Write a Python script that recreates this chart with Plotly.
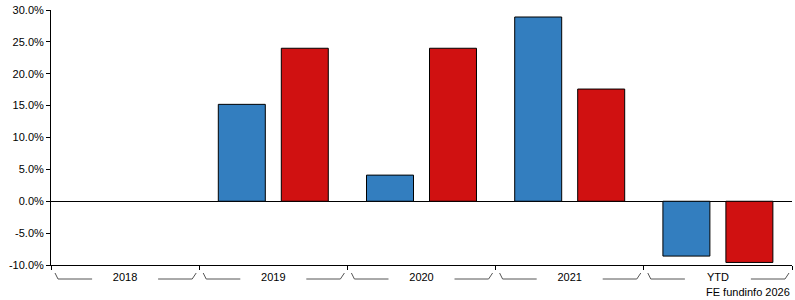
import plotly.graph_objects as go

categories = ["2018", "2019", "2020", "2021", "YTD"]
fund_values = [None, 15.2, 4.1, 28.9, -8.6]
sector_values = [None, 24.0, 24.0, 17.6, -9.6]
y_ticks = [-10, -5, 0, 5, 10, 15, 20, 25, 30]
y_tick_labels = [f"{v:.1f}%" for v in y_ticks]

W, H = 795, 300
ML, MR, MT, MB = 51, 3, 10, 35
plot_w = W - ML - MR
plot_h = H - MT - MB
cat_px = plot_w / len(categories)

fig = go.Figure()
fig.add_trace(go.Bar(x=categories, y=fund_values, name="Fund",
                     marker=dict(color="#337ebf", line=dict(color="#000000", width=1))))
fig.add_trace(go.Bar(x=categories, y=sector_values, name="Sector",
                     marker=dict(color="#d01111", line=dict(color="#000000", width=1))))

# bracket decorations under each category
shapes = []
def px2x(px):
    return px / cat_px
y_hi = -8 / plot_h
y_lo = -14 / plot_h
for i, c in enumerate(categories):
    left = i - 0.5
    right = i + 0.5
    half_gap = 33
    pts_left = [(left + px2x(4), y_hi), (left + px2x(7), y_lo), (i - px2x(half_gap), y_lo)]
    pts_right = [(i + px2x(half_gap), y_lo), (right - px2x(7), y_lo), (right - px2x(3), y_hi)]
    for pts in (pts_left, pts_right):
        path = "M " + " L ".join(f"{x},{y}" for x, y in pts)
        shapes.append(dict(type="path", path=path, xref="x", yref="paper",
                           line=dict(color="#555555", width=1)))

fig.update_layout(
    width=W, height=H,
    margin=dict(l=ML, r=MR, t=MT, b=MB, pad=0),
    paper_bgcolor="white", plot_bgcolor="white",
    barmode="group", bargap=0.15, bargroupgap=0.254,
    showlegend=False,
    font=dict(family="Liberation Sans, Arial, sans-serif", size=11, color="#000000"),
    shapes=shapes,
    xaxis=dict(type="category", showline=True, linecolor="#000000", linewidth=1,
               ticks="outside", tickson="boundaries", ticklen=4, tickcolor="#000000",
               ticklabelstandoff=2,
               showgrid=False, zeroline=False, range=[-0.5, 4.5], fixedrange=True),
    yaxis=dict(range=[-10, 30], tickvals=y_ticks, ticktext=y_tick_labels,
               showline=True, linecolor="#000000", linewidth=1,
               ticks="outside", ticklen=4, tickcolor="#000000",
               showgrid=False, zeroline=True, zerolinecolor="#000000", zerolinewidth=1),
    annotations=[dict(text="FE fundinfo 2026", xref="paper", yref="paper",
                      x=1.0, y=-19 / plot_h, xanchor="right", yanchor="top",
                      showarrow=False, font=dict(size=11, color="#000000"))],
)

fig.write_html("out.html")
